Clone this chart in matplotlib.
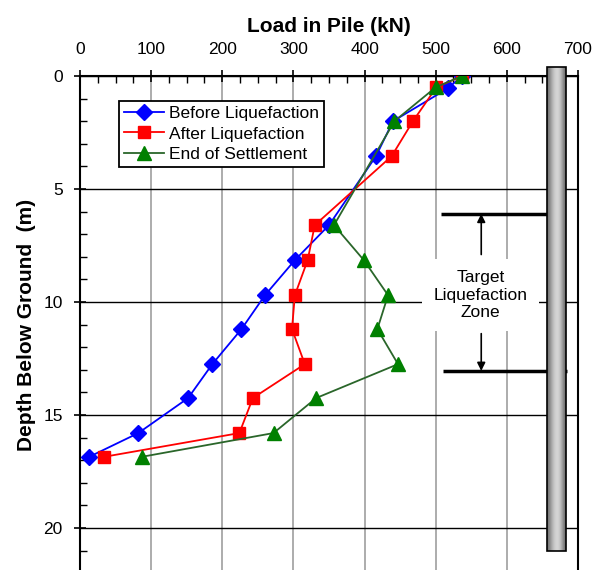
import numpy as np
import matplotlib
matplotlib.use("Agg")
import matplotlib.pyplot as plt
from matplotlib.ticker import MultipleLocator

plt.rcParams['font.family'] = ['Liberation Sans', 'DejaVu Sans']

# depth below ground (m) and pile load (kN)
depth_before = [0, 0.55, 2.0, 3.55, 6.6, 8.15, 9.7, 11.2, 12.75, 14.25, 15.8, 16.85]
load_before = [537, 517, 440, 416, 350, 302, 260, 227, 186, 152, 82, 13]

depth_after = [0, 0.5, 2.0, 3.55, 6.6, 8.15, 9.7, 11.2, 12.75, 14.25, 15.8, 16.85]
load_after = [537, 501, 468, 438, 330, 320, 302, 298, 316, 243, 224, 34]

depth_end = [0, 0.5, 2.0, 6.6, 8.15, 9.7, 11.2, 12.75, 14.25, 15.8, 16.85]
load_end = [537, 500, 442, 357, 399, 433, 418, 447, 332, 272, 87]

zone_top = 6.1
zone_bottom = 13.05
pile_x = (657, 683)
pile_depth = (-0.4, 21.0)

fig = plt.figure(figsize=(5.93, 5.70), dpi=100)
ax = fig.add_axes([0.1349, -0.0056, 0.8398, 0.8723])

ax.plot(load_before, depth_before, color='#0000ff', lw=1.3, marker='D', ms=8,
        mec='#0000ff', mfc='#0000ff', label='Before Liquefaction', zorder=5)
ax.plot(load_after, depth_after, color='#ff0000', lw=1.3, marker='s', ms=8,
        mec='#ff0000', mfc='#ff0000', label='After Liquefaction', zorder=6)
ax.plot(load_end, depth_end, color='#2a662a', lw=1.3, marker='^', ms=9.5,
        mec='#008000', mfc='#008000', label='End of Settlement', zorder=7)

# target liquefaction zone markers
ax.hlines(zone_top, 508, 670, color='black', lw=2.5, clip_on=False, zorder=3)
ax.hlines(zone_bottom, 510, 685, color='black', lw=2.5, clip_on=False, zorder=3)
ax.annotate('', xy=(564, zone_top), xytext=(564, 7.9),
            arrowprops=dict(arrowstyle='-|>', color='black', lw=1.2,
                            mutation_scale=12, shrinkA=0, shrinkB=0), zorder=3)
ax.annotate('', xy=(564, zone_bottom), xytext=(564, 11.4),
            arrowprops=dict(arrowstyle='-|>', color='black', lw=1.2,
                            mutation_scale=12, shrinkA=0, shrinkB=0), zorder=3)
ax.text(563, 9.7, 'Target\nLiquefaction\nZone', ha='center', va='center',
        fontsize=12.5, linespacing=1.2, zorder=4,
        bbox=dict(boxstyle='square,pad=0.65', fc='white', ec='none'))

# the pile, shaded like a cylinder
shade = np.array([0.45, 0.55, 0.66, 0.76, 0.82, 0.84, 0.8, 0.7, 0.56, 0.44])
ax.imshow(shade[np.newaxis, :], cmap='gray', vmin=0, vmax=1, aspect='auto',
          extent=(pile_x[0], pile_x[1], pile_depth[1], pile_depth[0]),
          interpolation='bicubic', clip_on=False, zorder=8)
ax.add_patch(plt.Rectangle((pile_x[0], pile_depth[0]), pile_x[1] - pile_x[0],
                           pile_depth[1] - pile_depth[0], fill=False,
                           ec='black', lw=1.2, clip_on=False, zorder=9))

ax.set_xlim(0, 700)
ax.set_ylim(22, 0)
ax.xaxis.tick_top()
ax.xaxis.set_label_position('top')
ax.xaxis.set_major_locator(MultipleLocator(100))
ax.xaxis.set_minor_locator(MultipleLocator(25))
ax.yaxis.set_major_locator(MultipleLocator(5))
ax.yaxis.set_minor_locator(MultipleLocator(1))

ax.set_axisbelow(True)
ax.xaxis.grid(True, color='#a6a6a6', lw=1.3)
ax.yaxis.grid(True, color='black', lw=1.0)

ax.tick_params(axis='both', which='major', direction='inout', length=9,
               width=1.2, labelsize=12.5)
ax.tick_params(axis='both', which='minor', direction='in', length=5, width=1.0)
ax.tick_params(axis='x', which='major', pad=9.5)
ax.tick_params(axis='y', which='major', pad=8)
for side in ['top', 'left', 'right']:
    ax.spines[side].set_linewidth(1.5)
ax.spines['bottom'].set_visible(False)

ax.set_xlabel('Load in Pile (kN)', fontsize=15, fontweight='bold', labelpad=7)
ax.set_ylabel('Depth Below Ground  (m)', fontsize=15, fontweight='bold',
              labelpad=5)

leg = ax.legend(loc='upper left', bbox_to_anchor=(0.078, 0.95), fontsize=12.5,
                fancybox=False, framealpha=1, edgecolor='black',
                borderaxespad=0, borderpad=0.3, labelspacing=0.3,
                handlelength=2.3, handletextpad=0.3)
leg.get_frame().set_linewidth(1.3)

fig.savefig('out.png', dpi=100)
